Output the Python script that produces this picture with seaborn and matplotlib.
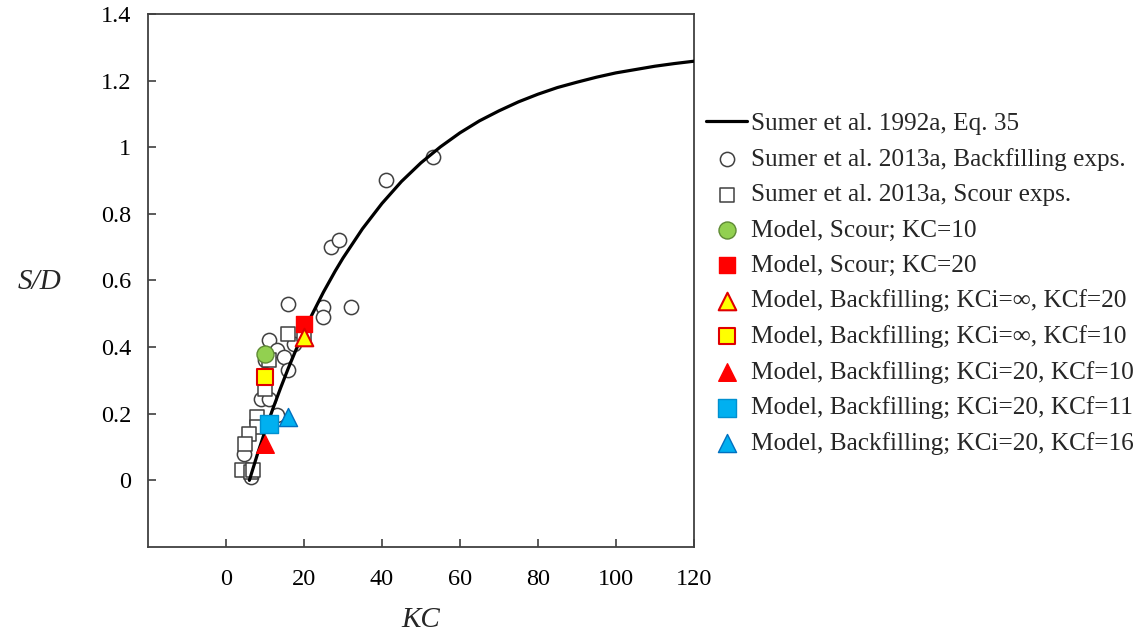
import matplotlib
matplotlib.use("Agg")
import matplotlib.pyplot as plt
import seaborn as sns

# Eq. 35 curve
curve_kc = [6, 7, 8, 10, 12, 14, 16, 18, 20, 22, 25, 28, 30, 35, 40, 45, 50, 55, 60,
            65, 70, 75, 80, 85, 90, 95, 100, 105, 110, 115, 120]
curve_sd = [0.0, 0.038, 0.076, 0.147, 0.214, 0.277, 0.337, 0.393, 0.446, 0.496, 0.565,
            0.628, 0.667, 0.755, 0.831, 0.897, 0.953, 1.001, 1.043, 1.079, 1.109, 1.136,
            1.159, 1.179, 1.195, 1.210, 1.223, 1.233, 1.243, 1.251, 1.258]

# Sumer et al. 2013a, backfilling experiments (open circles)
bf_kc = [53, 41, 27, 29, 32, 25, 25, 16, 11, 13, 15, 16, 17.5, 9, 11, 13, 4.5, 6.5, 10]
bf_sd = [0.97, 0.90, 0.70, 0.72, 0.52, 0.52, 0.49, 0.53, 0.42, 0.39, 0.37, 0.33, 0.41,
         0.245, 0.245, 0.195, 0.08, 0.01, 0.36]

# Sumer et al. 2013a, scour experiments (open squares)
sc_kc = [16, 20, 11, 10, 8, 8, 6, 5, 4, 6.5, 7]
sc_sd = [0.44, 0.44, 0.36, 0.275, 0.19, 0.16, 0.14, 0.11, 0.03, 0.025, 0.03]

# model results
m_scour10 = ([10], [0.38])
m_scour20 = ([20], [0.47])
m_bf_inf20 = ([20], [0.43])
m_bf_inf10 = ([10], [0.31])
m_bf_20_10 = ([10], [0.11])
m_bf_20_11 = ([11], [0.17])
m_bf_20_16 = ([16], [0.19])

x_ticks = [0, 20, 40, 60, 80, 100, 120]
y_ticks = [0, 0.2, 0.4, 0.6, 0.8, 1.0, 1.2, 1.4]
y_tick_labels = ["0", "0.2", "0.4", "0.6", "0.8", "1", "1.2", "1.4"]

sns.set_style("white")
plt.rcParams["font.family"] = ["Liberation Serif", "DejaVu Serif"]

fig = plt.figure(figsize=(11.47, 6.32), dpi=100)
ax = fig.add_axes([0.129, 0.1345, 0.476, 0.8435])

grey = "#404040"

sns.lineplot(x=curve_kc, y=curve_sd, color="black", linewidth=2.3, ax=ax,
             label="Sumer et al. 1992a, Eq. 35", zorder=3)
sns.scatterplot(x=bf_kc, y=bf_sd, marker="o", s=105, color="white", edgecolor=grey,
                linewidth=1.1, ax=ax, label="Sumer et al. 2013a, Backfilling exps.", zorder=2)
sns.scatterplot(x=sc_kc, y=sc_sd, marker="s", s=115, color="white", edgecolor=grey,
                linewidth=1.1, ax=ax, label="Sumer et al. 2013a, Scour exps.", zorder=2)
sns.scatterplot(x=m_scour10[0], y=m_scour10[1], marker="o", s=150, color="#92D050",
                edgecolor="#5E8A34", linewidth=1.0, ax=ax, label="Model, Scour; KC=10", zorder=4)
sns.scatterplot(x=m_scour20[0], y=m_scour20[1], marker="s", s=135, color="#FF0000",
                edgecolor="#FF0000", linewidth=1.0, ax=ax, label="Model, Scour; KC=20", zorder=4)
sns.scatterplot(x=m_bf_inf20[0], y=m_bf_inf20[1], marker="^", s=160, color="#FFFF00",
                edgecolor="#E00000", linewidth=1.5, ax=ax,
                label="Model, Backfilling; KCi=∞, KCf=20", zorder=5)
sns.scatterplot(x=m_bf_inf10[0], y=m_bf_inf10[1], marker="s", s=145, color="#FFFF00",
                edgecolor="#E00000", linewidth=1.5, ax=ax,
                label="Model, Backfilling; KCi=∞, KCf=10", zorder=4)
sns.scatterplot(x=m_bf_20_10[0], y=m_bf_20_10[1], marker="^", s=160, color="#FF0000",
                edgecolor="#FF0000", linewidth=1.0, ax=ax,
                label="Model, Backfilling; KCi=20, KCf=10", zorder=4)
sns.scatterplot(x=m_bf_20_11[0], y=m_bf_20_11[1], marker="s", s=160, color="#00B0F0",
                edgecolor="#0090D0", linewidth=1.0, ax=ax,
                label="Model, Backfilling; KCi=20, KCf=11", zorder=4)
sns.scatterplot(x=m_bf_20_16[0], y=m_bf_20_16[1], marker="^", s=170, color="#00B0F0",
                edgecolor="#0070C0", linewidth=1.0, ax=ax,
                label="Model, Backfilling; KCi=20, KCf=16", zorder=4)

ax.set_xlim(-20, 120)
ax.set_ylim(-0.2, 1.4)
ax.set_xticks(x_ticks)
ax.set_yticks(y_ticks)
ax.set_yticklabels(y_tick_labels)
ax.tick_params(axis="both", direction="in", length=6, width=1.2, color=grey,
               labelsize=17.5, labelcolor="black")
ax.tick_params(axis="x", pad=16)
ax.tick_params(axis="y", pad=12)
ax.tick_params(left=True, bottom=True)
for sp in ax.spines.values():
    sp.set_color(grey)
    sp.set_linewidth(1.3)

ax.set_xlabel("KC", fontsize=21, style="italic")
ax.set_ylabel("S/D", fontsize=21, style="italic", rotation=0, va="center")
ax.xaxis.set_label_coords(0.5, -0.112)
ax.yaxis.set_label_coords(-0.198, 0.497)

handles, labels = ax.get_legend_handles_labels()
ax.legend_.remove()
fig.legend(handles, labels, loc="upper left", bbox_to_anchor=(0.607, 0.838),
           frameon=False, fontsize=18.2, handlelength=1.6, handletextpad=0.15,
           labelspacing=0.5, borderaxespad=0)

fig.savefig("out.png", dpi=100)
